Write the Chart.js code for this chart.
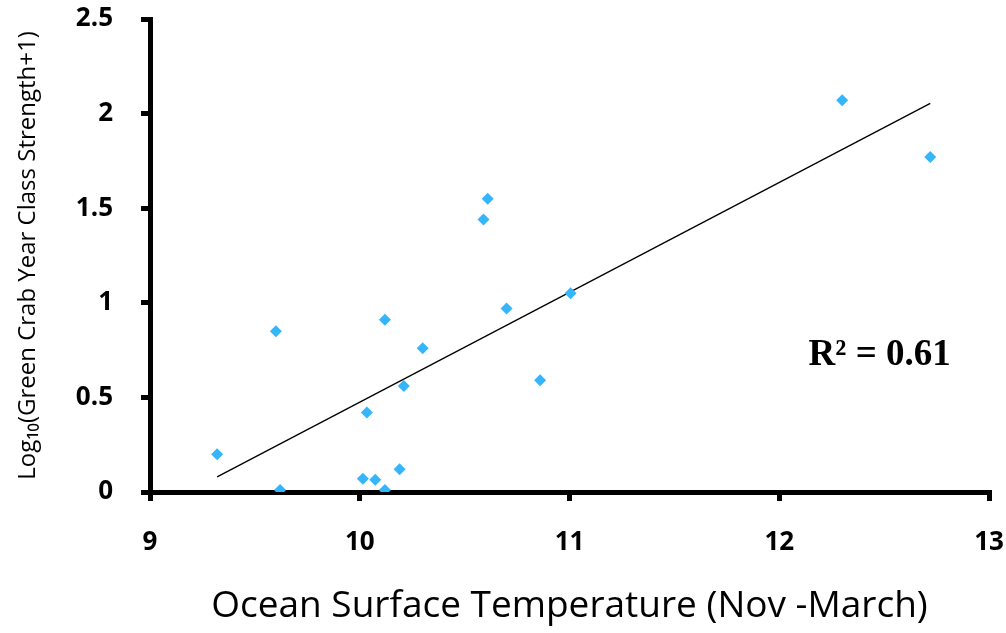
<!DOCTYPE html>
<html>
<head>
<meta charset="utf-8">
<script src="https://cdn.jsdelivr.net/npm/chart.js@4"></script>
<style>
  html, body { margin: 0; padding: 0; background: #fff; }
  #wrap { width: 1006px; height: 633px; }
</style>
</head>
<body>
<div id="wrap"><canvas id="chart" width="1006" height="633"></canvas></div>
<script>
// water temperature (Nov - March) vs log10(year class strength + 1)
const temps = [9.32, 9.60, 9.62, 10.015, 10.074, 10.12, 10.19, 10.034, 10.12,
               10.21, 10.30, 10.70, 10.86, 11.005, 10.61, 10.59, 12.30, 12.72];
const strength = [0.20, 0.85, 0.01, 0.07, 0.065, 0.01, 0.12, 0.42, 0.91,
                  0.56, 0.76, 0.97, 0.59, 1.05, 1.55, 1.44, 2.07, 1.77];
const xTicks = [9, 10, 11, 12, 13];
const yTicks = [0, 0.5, 1, 1.5, 2, 2.5];
const rLabel = "R² = 0.61";

// least squares fit for the trend line
const n = temps.length;
const mx = temps.reduce((a, b) => a + b, 0) / n;
const my = strength.reduce((a, b) => a + b, 0) / n;
let sxy = 0, sxx = 0;
for (let i = 0; i < n; i++) {
    sxy += (temps[i] - mx) * (strength[i] - my);
    sxx += (temps[i] - mx) * (temps[i] - mx);
}
const slope = sxy / sxx;
const icpt = my - slope * mx;
const xLo = Math.min(...temps), xHi = Math.max(...temps);
const trend = [
    { x: xLo, y: icpt + slope * xLo },
    { x: xHi, y: icpt + slope * xHi },
];

const points = temps.map((t, i) => ({ x: t, y: strength[i] }));

// R² text placed in data space
const r2Plugin = {
    id: "r2",
    afterDatasetsDraw(chart) {
        const { ctx, scales } = chart;
        ctx.save();
        ctx.font = "bold 37px 'Liberation Serif', serif";
        ctx.fillStyle = "#000";
        ctx.textBaseline = "middle";
        ctx.fillText(rLabel, scales.x.getPixelForValue(12.14), scales.y.getPixelForValue(0.72));
        ctx.restore();
    },
};

const tickFont = { family: "'Open Sans', sans-serif", size: 26, weight: "bold" };

new Chart(document.getElementById("chart"), {
    data: {
        datasets: [
            {
                type: "scatter",
                data: points,
                pointStyle: "rectRot",
                radius: 6,
                backgroundColor: "#35b5fb",
                borderWidth: 0,
                order: 1,
            },
            {
                type: "line",
                data: trend,
                borderColor: "#000",
                borderWidth: 1.3,
                pointRadius: 0,
                order: 2,
            },
        ],
    },
    plugins: [r2Plugin],
    options: {
        responsive: false,
        animation: false,
        layout: { padding: { top: 19, right: 17, left: 0, bottom: 0 } },
        plugins: { legend: { display: false }, tooltip: { enabled: false } },
        scales: {
            x: {
                type: "linear",
                min: 9,
                max: 13,
                afterBuildTicks: (s) => { s.ticks = xTicks.map((v) => ({ value: v })); },
                afterFit: (s) => {
                    s.height = 141;
                    s.paddingLeft = 0;
                    s.paddingRight = 0;
                },
                border: { display: true, color: "#000", width: 5 },
                grid: { drawOnChartArea: false, drawTicks: true, tickLength: 9, color: "#000", lineWidth: 5 },
                ticks: { color: "#000", font: tickFont, padding: 26 },
                title: {
                    display: true,
                    text: "Ocean Surface Temperature (Nov -March)",
                    color: "#000",
                    font: { family: "'Open Sans', sans-serif", size: 37 },
                    padding: { bottom: 4 },
                },
            },
            y: {
                type: "linear",
                min: 0,
                max: 2.5,
                afterBuildTicks: (s) => { s.ticks = yTicks.map((v) => ({ value: v })); },
                afterFit: (s) => {
                    s.width = 150;
                    s.paddingTop = 0;
                    s.paddingBottom = 0;
                },
                border: { display: true, color: "#000", width: 5 },
                grid: { drawOnChartArea: false, drawTicks: true, tickLength: 9, color: "#000", lineWidth: 5 },
                ticks: {
                    color: "#000",
                    font: tickFont,
                    padding: 28,
                    callback: (v) => String(v),
                },
                title: {
                    display: true,
                    text: "Log₁₀(Green Crab Year Class Strength+1)",
                    color: "#000",
                    font: { family: "'Open Sans', sans-serif", size: 24 },
                    padding: { top: 14 },
                },
            },
        },
    },
});
</script>
</body>
</html>
